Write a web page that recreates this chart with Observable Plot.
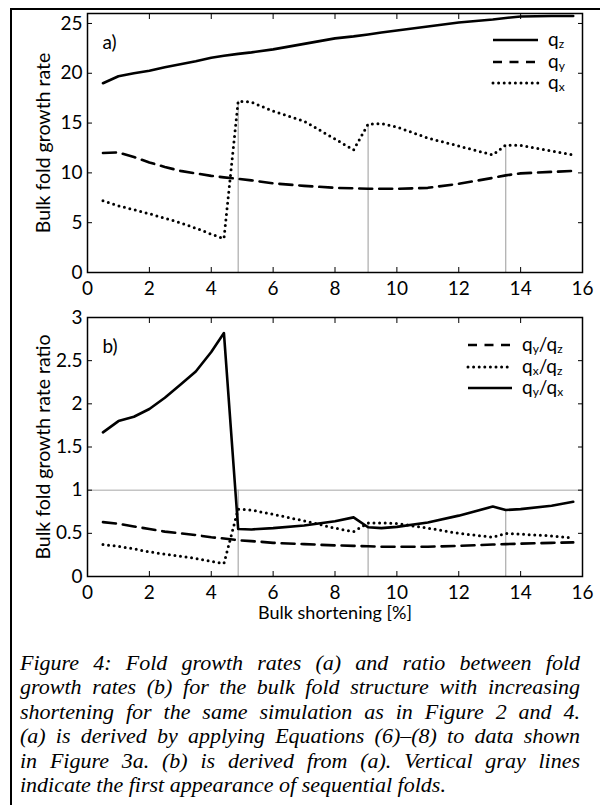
<!DOCTYPE html>
<html>
<head>
<meta charset="utf-8">
<script src="https://cdn.jsdelivr.net/npm/d3@7"></script>
<script src="https://cdn.jsdelivr.net/npm/@observablehq/plot@0.6"></script>
<style>
  html, body { margin: 0; padding: 0; background: white; }
  body { width: 600px; height: 805px; position: relative; overflow: hidden; }
  #box { position: absolute; left: 10px; top: 8px; width: 700px; height: 900px; border-left: 2.5px solid black; border-top: 2.5px solid black; }
  .panel { position: absolute; left: 0; }
  .legend { position: absolute; font-family: Lato, sans-serif; color: black; }
  .legend .row { position: absolute; left: 0; white-space: nowrap; height: 20px; }
  .legend svg { position: absolute; left: 0; top: 0; overflow: visible; }
  .legend .lab { position: absolute; font-size: 19px; line-height: 16px; top: 1px; }
  .legend sub { font-size: 12px; line-height: 0; vertical-align: -2px; }
  #caption { position: absolute; left: 20px; top: 651px; width: 560px; font-family: "Liberation Serif", serif; font-style: italic; font-size: 22px; line-height: 24.4px; color: black; }
  #caption div { text-align: justify; text-align-last: justify; white-space: nowrap; }
  #caption div.last { text-align-last: left; }
</style>
</head>
<body>
<div id="box"></div>
<div id="pa" class="panel" style="top:0"></div>
<div id="pb" class="panel" style="top:300px"></div>
<div id="lega" class="legend" style="left:493px; top:30px"></div>
<div id="legb" class="legend" style="left:468px; top:335px"></div>
<div id="caption">
  <div>Figure 4: Fold growth rates (a) and ratio between fold</div>
  <div>growth rates (b) for the bulk fold structure with increasing</div>
  <div>shortening for the same simulation as in Figure 2 and 4.</div>
  <div>(a) is derived by applying Equations (6)–(8) to data shown</div>
  <div>in Figure 3a. (b) is derived from (a). Vertical gray lines</div>
  <div class="last">indicate the first appearance of sequential folds.</div>
</div>
<script>
// shared x positions (bulk shortening, %)
const xs = [0.5, 1, 1.5, 2, 2.5, 3, 3.5, 4, 4.41, 4.87, 5.3, 6, 7, 8, 8.6, 9.07, 9.5, 10, 11, 12, 13.1, 13.52, 14, 15, 15.7];
// panel a: bulk fold growth rates
const qz = [19.0, 19.7, 20.0, 20.25, 20.6, 20.9, 21.2, 21.55, 21.75, 21.95, 22.1, 22.4, 22.95, 23.5, 23.7, 23.9, 24.1, 24.3, 24.7, 25.1, 25.4, 25.55, 25.7, 25.75, 25.75];
const qy = [12.0, 12.05, 11.6, 11.05, 10.6, 10.2, 9.95, 9.7, 9.55, 9.4, 9.25, 8.95, 8.7, 8.5, 8.45, 8.4, 8.4, 8.4, 8.5, 8.9, 9.5, 9.75, 9.95, 10.1, 10.2];
const qx = [7.2, 6.7, 6.3, 5.9, 5.45, 5.0, 4.45, 3.85, 3.4, 17.2, 17.1, 16.2, 15.2, 13.4, 12.3, 14.9, 14.95, 14.6, 13.5, 12.7, 11.8, 12.8, 12.75, 12.2, 11.8];
// panel b: ratios
const qyqz = [0.63, 0.61, 0.58, 0.55, 0.52, 0.50, 0.48, 0.455, 0.44, 0.42, 0.41, 0.39, 0.375, 0.36, 0.355, 0.35, 0.345, 0.345, 0.345, 0.355, 0.37, 0.375, 0.38, 0.39, 0.395];
const qxqz = [0.37, 0.35, 0.32, 0.285, 0.26, 0.235, 0.21, 0.175, 0.15, 0.78, 0.77, 0.72, 0.645, 0.56, 0.52, 0.62, 0.62, 0.615, 0.56, 0.50, 0.455, 0.50, 0.49, 0.47, 0.445];
const qyqx = [1.67, 1.80, 1.85, 1.94, 2.07, 2.22, 2.375, 2.60, 2.82, 0.55, 0.545, 0.56, 0.59, 0.64, 0.685, 0.57, 0.56, 0.575, 0.625, 0.705, 0.81, 0.77, 0.78, 0.82, 0.865];
// first appearance of sequential folds
const foldX = [4.87, 9.07, 13.52];
const foldTopA = [17.2, 14.9, 12.8];
const foldTopB = [1, 0.62, 0.77];
const refLineB = [1];
// ticks
const xTicks = [0, 2, 4, 6, 8, 10, 12, 14, 16];
const yTicksA = [0, 5, 10, 15, 20, 25];
const yTicksB = [0, 0.5, 1, 1.5, 2, 2.5, 3];
// titles
const titleYA = ["Bulk fold growth rate"];
const titleYB = ["Bulk fold growth rate ratio"];
const titleX = ["Bulk shortening [%]"];

const rows = (ys) => xs.map((x, i) => ({x, y: ys[i]}));
const folds = (tops) => foldX.map((x, i) => ({x, top: tops[i]}));
const FONT = "Lato, sans-serif";
const solid = {stroke: "black", strokeWidth: 2.6, strokeLinejoin: "round"};
const dashed = {stroke: "black", strokeWidth: 2.6, strokeDasharray: "13 7"};
const dotted = {stroke: "black", strokeWidth: 3, strokeDasharray: "0 5.6", strokeLinecap: "round"};
const blank = () => "";

function axes(yTicks, fmt) {
  return [
    Plot.axisX(xTicks, {anchor: "bottom", tickSize: -5, label: null, fontSize: 19}),
    Plot.axisX(xTicks, {anchor: "top", tickSize: -5, tickFormat: blank, label: null}),
    Plot.axisY(yTicks, {anchor: "left", tickSize: -5, tickPadding: 10, tickFormat: fmt, label: null, fontSize: 19}),
    Plot.axisY(yTicks, {anchor: "right", tickSize: -5, tickFormat: blank, label: null})
  ];
}
const yTitle = (t) => Plot.text(t, {frameAnchor: "left", rotate: -90, dx: -44, textAnchor: "middle", lineAnchor: "middle", fontSize: 19.5, fill: "black"});

const pa = Plot.plot({
  width: 600, height: 300,
  marginLeft: 87, marginRight: 18, marginTop: 13, marginBottom: 28,
  style: {background: "none", fontFamily: FONT, fontSize: "17px", color: "black", overflow: "visible"},
  x: {domain: [0, 16]},
  y: {domain: [0, 26]},
  marks: [
    Plot.ruleX(folds(foldTopA), {x: "x", y1: 0, y2: "top", stroke: "#9a9a9a", strokeWidth: 1}),
    Plot.line(rows(qz), {x: "x", y: "y", ...solid}),
    Plot.line(rows(qy), {x: "x", y: "y", ...dashed}),
    Plot.line(rows(qx), {x: "x", y: "y", ...dotted}),
    Plot.frame({stroke: "black", strokeWidth: 1.5}),
    ...axes(yTicksA, d3.format("d")),
    yTitle(titleYA),
    Plot.text(["a)"], {frameAnchor: "top-left", dx: 15, dy: 22, fontSize: 19, fill: "black"})
  ]
});
document.getElementById("pa").appendChild(pa);

const pb = Plot.plot({
  width: 600, height: 330,
  marginLeft: 87, marginRight: 18, marginTop: 17, marginBottom: 54,
  style: {background: "none", fontFamily: FONT, fontSize: "17px", color: "black", overflow: "visible"},
  x: {domain: [0, 16]},
  y: {domain: [0, 3]},
  marks: [
    Plot.ruleY(refLineB, {stroke: "#c4c4c4", strokeWidth: 1.5}),
    Plot.ruleX(folds(foldTopB), {x: "x", y1: 0, y2: "top", stroke: "#9a9a9a", strokeWidth: 1}),
    Plot.line(rows(qyqz), {x: "x", y: "y", ...dashed}),
    Plot.line(rows(qxqz), {x: "x", y: "y", ...dotted}),
    Plot.line(rows(qyqx), {x: "x", y: "y", ...solid}),
    Plot.frame({stroke: "black", strokeWidth: 1.5}),
    ...axes(yTicksB, d3.format("")),
    yTitle(titleYB),
    Plot.text(titleX, {frameAnchor: "bottom", dy: 37, textAnchor: "middle", lineAnchor: "middle", fontSize: 18, fill: "black"}),
    Plot.text(["b)"], {frameAnchor: "top-left", dx: 15, dy: 22, fontSize: 19, fill: "black"})
  ]
});
document.getElementById("pb").appendChild(pb);

// legends
const legA = [
  {style: solid, parts: [["q", "z"]]},
  {style: dashed, parts: [["q", "y"]]},
  {style: dotted, parts: [["q", "x"]]}
];
const legB = [
  {style: dashed, parts: [["q", "y"], ["/q", "z"]]},
  {style: dotted, parts: [["q", "x"], ["/q", "z"]]},
  {style: solid, parts: [["q", "y"], ["/q", "x"]]}
];
function buildLegend(el, items, lineW, gap, spacing, dash) {
  items.forEach((it, i) => {
    const row = document.createElement("div");
    row.className = "row";
    row.style.top = (i * spacing) + "px";
    const s = it.style;
    const da = s.strokeDasharray === "13 7" ? dash : (s.strokeDasharray || "");
    row.innerHTML = `<svg width="${lineW}" height="20"><line x1="0" x2="${lineW}" y1="10" y2="10" stroke="black" stroke-width="${s.strokeWidth}" ${da ? `stroke-dasharray="${da}"` : ""} ${s.strokeLinecap ? `stroke-linecap="${s.strokeLinecap}"` : ""}/></svg>`;
    const lab = document.createElement("span");
    lab.className = "lab";
    lab.style.left = (lineW + gap) + "px";
    lab.innerHTML = it.parts.map(([a, b]) => `${a}<sub>${b}</sub>`).join("");
    row.appendChild(lab);
    el.appendChild(row);
  });
}
buildLegend(document.getElementById("lega"), legA, 45, 10, 21.7, "9 7.5");
buildLegend(document.getElementById("legb"), legB, 44, 10, 21.7, "9 7.5");
</script>
</body>
</html>
